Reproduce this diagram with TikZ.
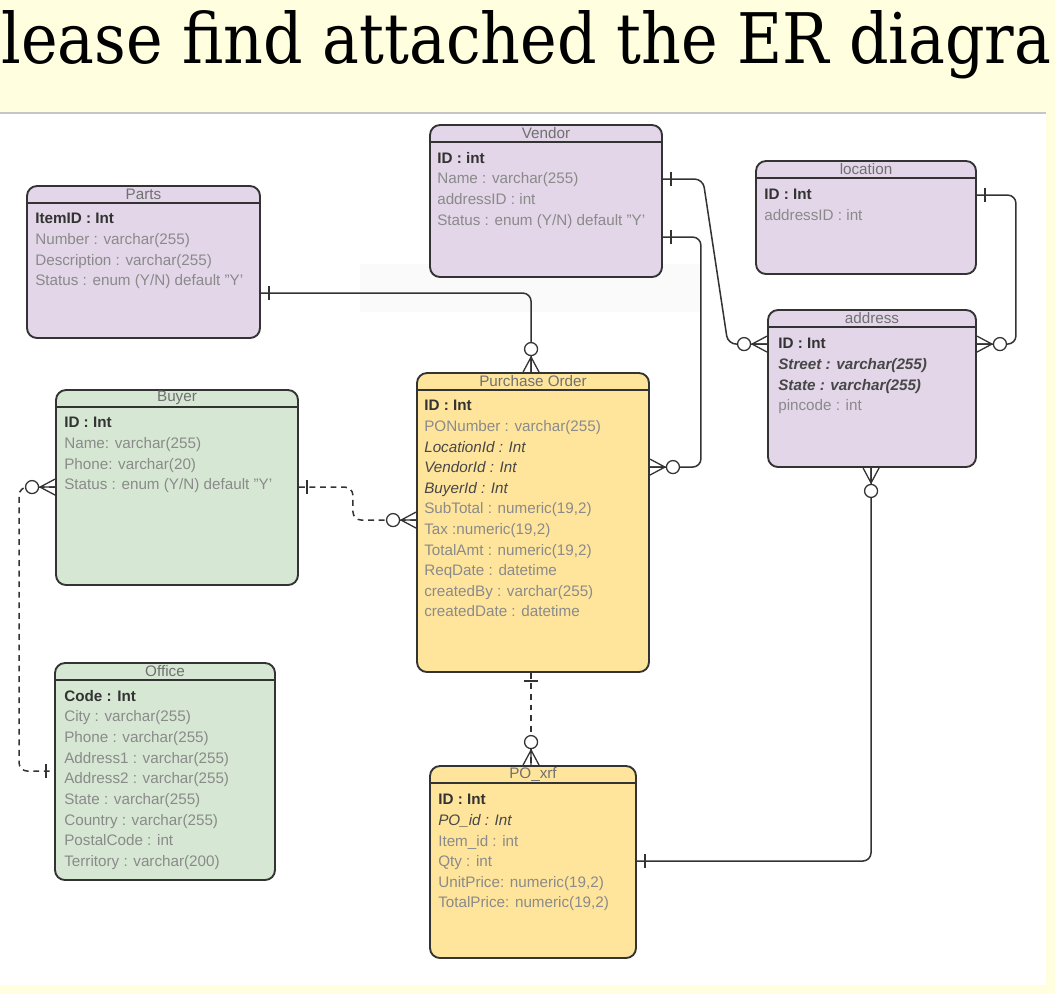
\documentclass[tikz,border=0pt]{standalone}
\usepackage{fontspec}
\setsansfont{Liberation Sans}
\newfontfamily\titelschrift{DejaVu Serif}
\usepackage{graphicx}
\usetikzlibrary{positioning, calc, fit}
\definecolor{erlila}{HTML}{E2D6E8}
\definecolor{ergruen}{HTML}{D6E8D3}
\definecolor{ergelb}{HTML}{FFE59C}
\definecolor{randgrau}{HTML}{333333}
\definecolor{attrgrau}{HTML}{8A8A8A}
\definecolor{titelgrau}{HTML}{707070}
\definecolor{kopfgelb}{HTML}{FFFFE0}
\newcommand{\schluessel}[1]{\textbf{\color{randgrau}#1}}
\newcommand{\fremd}[1]{\textit{\color{randgrau!90}#1}}

\begin{document}
\begin{tikzpicture}[x=0.03cm, y=-0.03cm, font=\sffamily,
    entity/.style={draw=randgrau, line width=1.6pt, rounded corners=0.3cm, inner sep=0pt},
    etitle/.style={text=titelgrau, inner sep=0pt, font=\sffamily\fontsize{13}{15}\selectfont},
    attrs/.style={anchor=north west, align=left, inner sep=0pt, text=attrgrau,
        font=\sffamily\fontsize{13}{17.6}\selectfont},
    rel/.style={draw=randgrau, line width=1.3pt, rounded corners=0.25cm},
    relopt/.style={rel, dash pattern=on 5pt off 4pt},
    zeromany/.pic={
        \draw[randgrau, line width=1.1pt] (-15,0) -- (0,-8) (-15,0) -- (0,0) (-15,0) -- (0,8);
        \draw[randgrau, line width=1.1pt, fill=white] (-23,0) circle[radius=6.5];},
    one/.pic={\draw[randgrau, line width=1.1pt] (-8,-7) -- (-8,7);}]

    \useasboundingbox (0,0) rectangle (1055,994);

    % Hintergrund: Kopfzeile und Bildfläche
    \fill[kopfgelb] (0,0) rectangle (1055,994);
    \fill[white] (0,114) rectangle (1046,985);
    \draw[gray!45, line width=2pt] (0,113) -- (1046,113);
    \fill[gray!4] (360,264) rectangle (700,312);

    % Überschrift (links und rechts abgeschnitten)
    \node[anchor=base west, inner sep=0pt] (titel) at (1,63)
        {\resizebox{31.5cm}{1.59cm}{\titelschrift lease find attached the ER diagra}};

    % Entitäten
    \node[entity, fill=erlila, fit={(430,125) (662,277)}] (vendor) {};
    \node[entity, fill=erlila, fit={(27,186) (260,338)}] (parts) {};
    \node[entity, fill=erlila, fit={(756,161) (976,274)}] (location) {};
    \node[entity, fill=erlila, fit={(768,310) (976,467)}] (address) {};
    \node[entity, fill=ergelb, fit={(417,373) (649,672)}] (po) {};
    \node[entity, fill=ergruen, fit={(56,390) (298,585)}] (buyer) {};
    \node[entity, fill=ergruen, fit={(55,663) (275,880)}] (office) {};
    \node[entity, fill=ergelb, fit={(430,766) (636,958)}] (poxref) {};

    % Kopf mit Name und Trennlinie
    \foreach \ename/\etext in {vendor/Vendor, parts/Parts, location/location, address/address,
        po/Purchase Order, buyer/Buyer, office/Office, poxref/PO\_xrf} {
        \node[etitle] (\ename-titel) at ($(\ename.north)+(0,9)$) {\etext};
        \draw[randgrau, line width=1pt] ($(\ename.north west)+(0,18)$) -- ($(\ename.north east)+(0,18)$);
    }

    % Attribute
    \node[attrs] (vendor-attr) at ($(vendor.north west)+(8,28)$)
        {\schluessel{ID : int}\\ Name : varchar(255)\\ addressID : int\\ Status : enum (Y/N) default "Y'};
    \node[attrs] (parts-attr) at ($(parts.north west)+(9,28)$)
        {\schluessel{ItemID : Int}\\ Number : varchar(255)\\ Description : varchar(255)\\ Status : enum (Y/N) default "Y'};
    \node[attrs] (location-attr) at ($(location.north west)+(9,29)$)
        {\schluessel{ID : Int}\\ addressID : int};
    \node[attrs] (address-attr) at ($(address.north west)+(11,29)$)
        {\schluessel{ID : Int}\\ \textbf{\fremd{Street : varchar(255)}}\\ \textbf{\fremd{State : varchar(255)}}\\ pincode : int};
    \node[attrs] (po-attr) at ($(po.north west)+(8,28)$)
        {\schluessel{ID : Int}\\ PONumber : varchar(255)\\ \fremd{LocationId : Int}\\ \fremd{VendorId : Int}\\
         \fremd{BuyerId : Int}\\ SubTotal : numeric(19,2)\\ Tax :numeric(19,2)\\ TotalAmt : numeric(19,2)\\
         ReqDate : datetime\\ createdBy : varchar(255)\\ createdDate : datetime};
    \node[attrs] (buyer-attr) at ($(buyer.north west)+(9,28)$)
        {\schluessel{ID : Int}\\ Name: varchar(255)\\ Phone: varchar(20)\\ Status : enum (Y/N) default "Y'};
    \node[attrs] (office-attr) at ($(office.north west)+(10,28)$)
        {\schluessel{Code : Int}\\ City : varchar(255)\\ Phone : varchar(255)\\ Address1 : varchar(255)\\
         Address2 : varchar(255)\\ State : varchar(255)\\ Country : varchar(255)\\ PostalCode : int\\
         Territory : varchar(200)};
    \node[attrs] (poxref-attr) at ($(poxref.north west)+(9,29)$)
        {\schluessel{ID : Int}\\ \fremd{PO\_id : Int}\\ Item\_id : int\\ Qty : int\\
         UnitPrice: numeric(19,2)\\ TotalPrice: numeric(19,2)};

    % Beziehungen
    \draw[rel] ($(parts.north east)+(0,108)$) -| ($(po.north west)+(115,0)$);
    \draw[rel] ($(vendor.north east)+(0,55)$) -- ++(40,0) -- ++(25,165) -- ($(address.north west)+(0,35)$);
    \draw[rel] ($(vendor.north east)+(0,113)$) -- ++(38,0) |- ($(po.north east)+(0,95)$);
    \draw[rel] ($(location.north east)+(0,35)$) -- ++(39,0) |- ($(address.north east)+(0,35)$);
    \draw[rel] ($(address.south west)+(104,0)$) |- ($(poxref.north east)+(0,96)$);
    \draw[relopt] ($(po.south west)+(115,0)$) -- ($(poxref.north west)+(102,0)$);
    \draw[relopt] ($(buyer.north east)+(0,98)$) -- ++(54,0) |- ($(po.north west)+(0,148)$);
    \draw[relopt] ($(buyer.north west)+(0,98)$) -- ++(-36,0) |- ($(office.north west)+(0,109)$);

    % Kardinalitäten
    \pic[rotate=180] at ($(parts.north east)+(0,108)$) {one};
    \pic[rotate=-90] at ($(po.north west)+(115,0)$) {zeromany};
    \pic[rotate=180] at ($(vendor.north east)+(0,55)$) {one};
    \pic at ($(address.north west)+(0,35)$) {zeromany};
    \pic[rotate=180] at ($(vendor.north east)+(0,113)$) {one};
    \pic[rotate=180] at ($(po.north east)+(0,95)$) {zeromany};
    \pic[rotate=180] at ($(location.north east)+(0,35)$) {one};
    \pic[rotate=180] at ($(address.north east)+(0,35)$) {zeromany};
    \pic[rotate=90] at ($(address.south west)+(104,0)$) {zeromany};
    \pic[rotate=180] at ($(poxref.north east)+(0,96)$) {one};
    \pic[rotate=90] at ($(po.south west)+(115,0)$) {one};
    \pic[rotate=-90] at ($(poxref.north west)+(102,0)$) {zeromany};
    \pic[rotate=180] at ($(buyer.north east)+(0,98)$) {one};
    \pic at ($(po.north west)+(0,148)$) {zeromany};
    \pic at ($(buyer.north west)+(0,98)$) {zeromany};
    \pic at ($(office.north west)+(0,109)$) {one};

\end{tikzpicture}
\end{document}
